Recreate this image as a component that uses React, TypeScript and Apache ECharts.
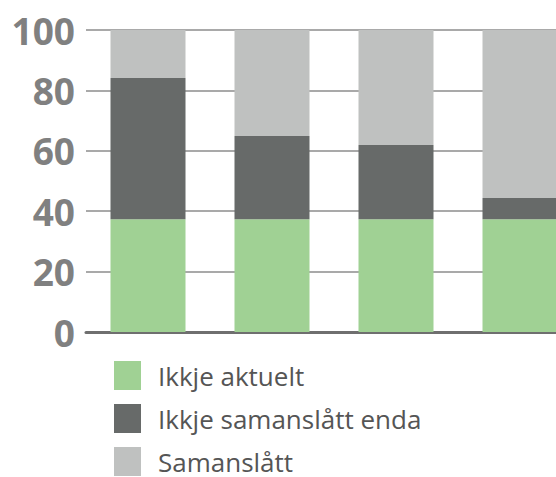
import React, { useEffect, useRef } from "react";
import * as echarts from "echarts";

const categories = ["1", "2", "3", "4"];
const ikkjeAktuelt = [37.3, 37.3, 37.3, 37.3];
const ikkjeSamanslattEnda = [46.8, 27.6, 24.6, 7.1];
const samanslatt = [15.9, 35.1, 38.1, 55.6];
const seriesNames = ["Ikkje aktuelt", "Ikkje samanslått enda", "Samanslått"];
const colors = ["#a0d194", "#676a69", "#bfc1c0"];

export default function App() {
  const ref = useRef<HTMLDivElement>(null);
  useEffect(() => {
    if (!ref.current) return;
    const chart = echarts.init(ref.current, null, { renderer: "svg" });
    const data = [ikkjeAktuelt, ikkjeSamanslattEnda, samanslatt];
    chart.setOption({
      animation: false,
      grid: { left: 86, top: 30, width: 496, height: 302 },
      legend: {
        orient: "vertical",
        left: 114,
        top: 361,
        padding: 0,
        height: 130,
        itemWidth: 27,
        itemHeight: 29,
        itemGap: 14,
        icon: "rect",
        data: seriesNames,
        textStyle: {
          fontFamily: "Open Sans",
          fontSize: 26,
          color: "#555555",
          padding: [4, 0, 0, 12],
        },
      },
      xAxis: {
        type: "category",
        data: categories,
        axisLabel: { show: false },
        axisTick: { show: false },
        axisLine: { show: true, lineStyle: { color: "#6f6f6f", width: 3 } },
      },
      yAxis: {
        type: "value",
        min: 0,
        max: 100,
        interval: 20,
        axisLine: { show: false },
        axisTick: { show: false },
        splitLine: { lineStyle: { color: "#8c8c8c", width: 1.5 } },
        axisLabel: {
          margin: 11,
          color: "#808080",
          fontFamily: "Open Sans",
          fontWeight: "bold",
          fontSize: 37,
          padding: [0, 0, 4, 0],
        },
      },
      series: seriesNames.map((name, i) => ({
        name,
        type: "bar",
        stack: "total",
        barWidth: 75,
        itemStyle: { color: colors[i] },
        data: data[i],
      })),
    });
    return () => chart.dispose();
  }, []);
  return (
    <div style={{ position: "absolute", left: 0, top: 0, width: 556, height: 477, overflow: "hidden", background: "#fff" }}>
      <div ref={ref} style={{ width: 582, height: 477 }} />
    </div>
  );
}
